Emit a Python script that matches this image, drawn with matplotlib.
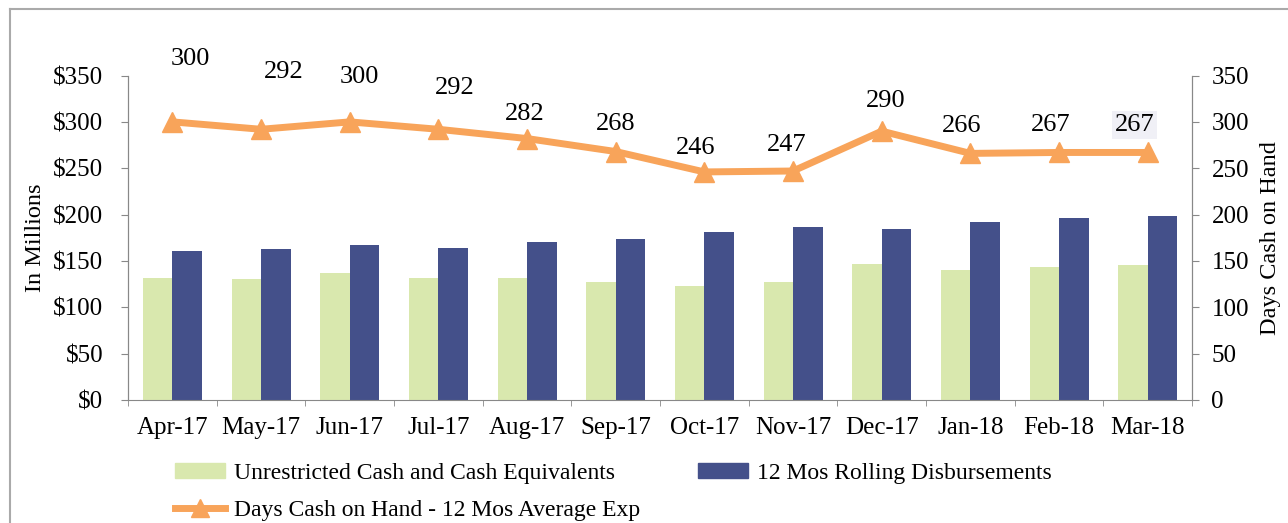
import matplotlib
matplotlib.use('Agg')
import numpy as np
import matplotlib.pyplot as plt
from matplotlib.lines import Line2D

plt.rcParams['font.family'] = ['Liberation Serif', 'DejaVu Serif']

# 数据
months = ['Apr-17', 'May-17', 'Jun-17', 'Jul-17', 'Aug-17', 'Sep-17',
          'Oct-17', 'Nov-17', 'Dec-17', 'Jan-18', 'Feb-18', 'Mar-18']
cash = [132, 130, 137, 132, 132, 127, 123, 127, 147, 140, 143, 146]
disbursements = [161, 163, 167, 164, 170, 174, 181, 187, 184, 192, 196, 199]
days_cash = [300, 292, 300, 292, 282, 268, 246, 247, 290, 266, 267, 267]

# 标签偏移 (points)
label_dx = [13, 16.5, 7, 12, -1.5, 0, -6.5, -4.5, 3, -6.5, -6, -9.5]
label_dy = [45, 41.5, 32.5, 29.5, 18, 19.5, 17, 19, 21.5, 19.5, 20, 20]

green = '#d9e8ae'
navy = '#44508a'
orange = '#f8a45a'

fig = plt.figure(figsize=(12.88, 5.23), dpi=100)
ax = fig.add_axes([0.0994, 0.2352, 0.8261, 0.6204])
ax2 = ax.twinx()

x = np.arange(len(months))
w = 0.333
ax.bar(x - w / 2, cash, width=w, color=green, zorder=2)
ax.bar(x + w / 2, disbursements, width=w, color=navy, zorder=2)

ax2.plot(x, days_cash, color=orange, lw=5, marker='^', markersize=15, zorder=3)
for i, v in enumerate(days_cash):
    bbox = None
    if i == len(days_cash) - 1:
        bbox = dict(facecolor='#f0f0f6', edgecolor='none', pad=2)
    ax2.annotate(str(v), (x[i], v), xytext=(label_dx[i], label_dy[i]),
                 textcoords='offset points', ha='center', va='center',
                 fontsize=19, bbox=bbox)

ax.set_xlim(-0.5, len(months) - 0.5)
ax.set_ylim(0, 350)
ax2.set_ylim(0, 350)
ax.set_yticks(range(0, 351, 50))
ax.set_yticklabels(['$%d' % t for t in range(0, 351, 50)])
ax2.set_yticks(range(0, 351, 50))

ax.set_xticks(x)
ax.set_xticklabels(months)
ax.set_xticks(np.arange(-0.5, len(months), 1), minor=True)
ax.tick_params(axis='x', which='major', length=0, labelsize=18, pad=12)
ax.tick_params(axis='x', which='minor', length=4, color='#888888')
ax.tick_params(axis='y', labelsize=18, length=5, color='#888888', pad=13)
ax2.tick_params(axis='y', labelsize=18, length=5, color='#888888', pad=9)

for a in (ax, ax2):
    a.spines['top'].set_visible(False)
    for s in ('left', 'right', 'bottom'):
        a.spines[s].set_color('#888888')
ax2.spines['bottom'].set_visible(False)

ax.set_ylabel('In Millions', fontsize=17.5, labelpad=5)
ax2.set_ylabel('Days Cash on Hand', fontsize=17.5, labelpad=8)

handles = [
    plt.Rectangle((0, 0), 1, 1, color=green),
    Line2D([0], [0], color=orange, lw=5, marker='^', markersize=13),
    plt.Rectangle((0, 0), 1, 1, color=navy),
]
labels = ['Unrestricted Cash and Cash Equivalents',
          'Days Cash on Hand - 12 Mos Average Exp',
          '12 Mos Rolling Disbursements']
fig.legend(handles, labels, loc='upper left', bbox_to_anchor=(0.1359, 0.1145),
           ncol=2, frameon=False, fontsize=17, handlelength=2.1,
           handleheight=0.6, handletextpad=0.4, columnspacing=2.45,
           labelspacing=0.69, borderaxespad=0, borderpad=0)

# 扫描边框
fig.add_artist(Line2D([0.008, 1.0], [0.983, 0.983], color='#aaaaaa', lw=1.5))
fig.add_artist(Line2D([0.008, 0.008], [0.0, 0.983], color='#aaaaaa', lw=1.5))

fig.savefig('out.png', dpi=100)
